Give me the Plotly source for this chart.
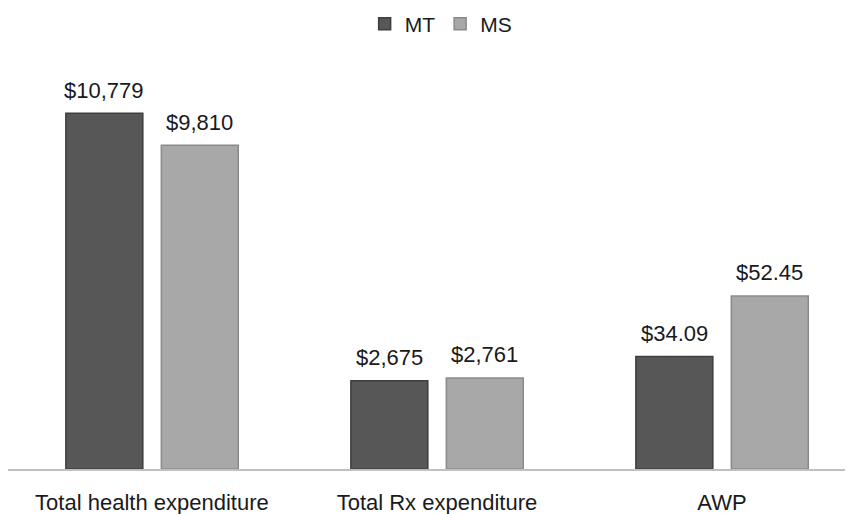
import plotly.graph_objects as go

categories = ["Total health expenditure", "Total Rx expenditure", "AWP"]
series_names = ["MT", "MS"]
mt_values = [10779, 2675, 34.09]
ms_values = [9810, 2761, 52.45]
value_labels_mt = ["$10,779", "$2,675", "$34.09"]
value_labels_ms = ["$9,810", "$2,761", "$52.45"]
secondary_categories = ["AWP"]  # plotted on a secondary (per-unit) scale

FONT = "Liberation Sans, Arial, sans-serif"
colors = {"MT": "#575757", "MS": "#a8a8a8"}
edge = {"MT": "#3e3e3e", "MS": "#8a8a8a"}
offsets = {"MT": -0.302, "MS": 0.033}
BAR_W = 0.27

fig = go.Figure()
series = {"MT": (mt_values, value_labels_mt), "MS": (ms_values, value_labels_ms)}

for name in series_names:
    vals, labels = series[name]
    prim = [v if c not in secondary_categories else None for c, v in zip(categories, vals)]
    sec = [v if c in secondary_categories else None for c, v in zip(categories, vals)]
    for ys, axis, show in ((prim, "y", True), (sec, "y2", False)):
        fig.add_trace(go.Bar(
            x=categories, y=ys, name=name, yaxis=axis, showlegend=show,
            legendgroup=name,
            width=BAR_W, offset=offsets[name],
            marker=dict(color=colors[name], line=dict(color=edge[name], width=1.5)),
            hoverinfo="skip",
        ))
    px_shift = (offsets[name] + BAR_W / 2) * 285
    for c, v, lab in zip(categories, vals, labels):
        fig.add_annotation(
            x=c, y=v, xref="x", yref="y2" if c in secondary_categories else "y",
            text=lab, showarrow=False, xshift=px_shift, yshift=23,
            yanchor="middle", font=dict(family=FONT, size=22, color="#1a1a1a"),
        )

W, H = 845, 506
fig.update_layout(
    width=W, height=H,
    margin=dict(l=0, r=0, t=65, b=45, autoexpand=False),
    paper_bgcolor="white", plot_bgcolor="white",
    barmode="overlay",
    font=dict(family=FONT, size=22, color="#1a1a1a"),
    showlegend=True,
    legend=dict(orientation="h", xref="container", yref="container",
                x=0.512, xanchor="center", y=1 - 16 / H, yanchor="middle",
                font=dict(family=FONT, size=21, color="#1a1a1a"),
                itemwidth=30, traceorder="normal"),
    xaxis=dict(type="category", range=[-0.505, -0.505 + W / 285], showgrid=False,
               showline=True, linecolor="#c0c0c0", linewidth=1.5,
               ticks="", ticklabelstandoff=13, automargin=False,
               tickfont=dict(family=FONT, size=22, color="#1a1a1a")),
    yaxis=dict(range=[0, 12000], visible=False, showgrid=False, zeroline=False),
    yaxis2=dict(range=[0, 120], overlaying="y", visible=False, showgrid=False,
                zeroline=False),
)

fig.write_html("out.html")
